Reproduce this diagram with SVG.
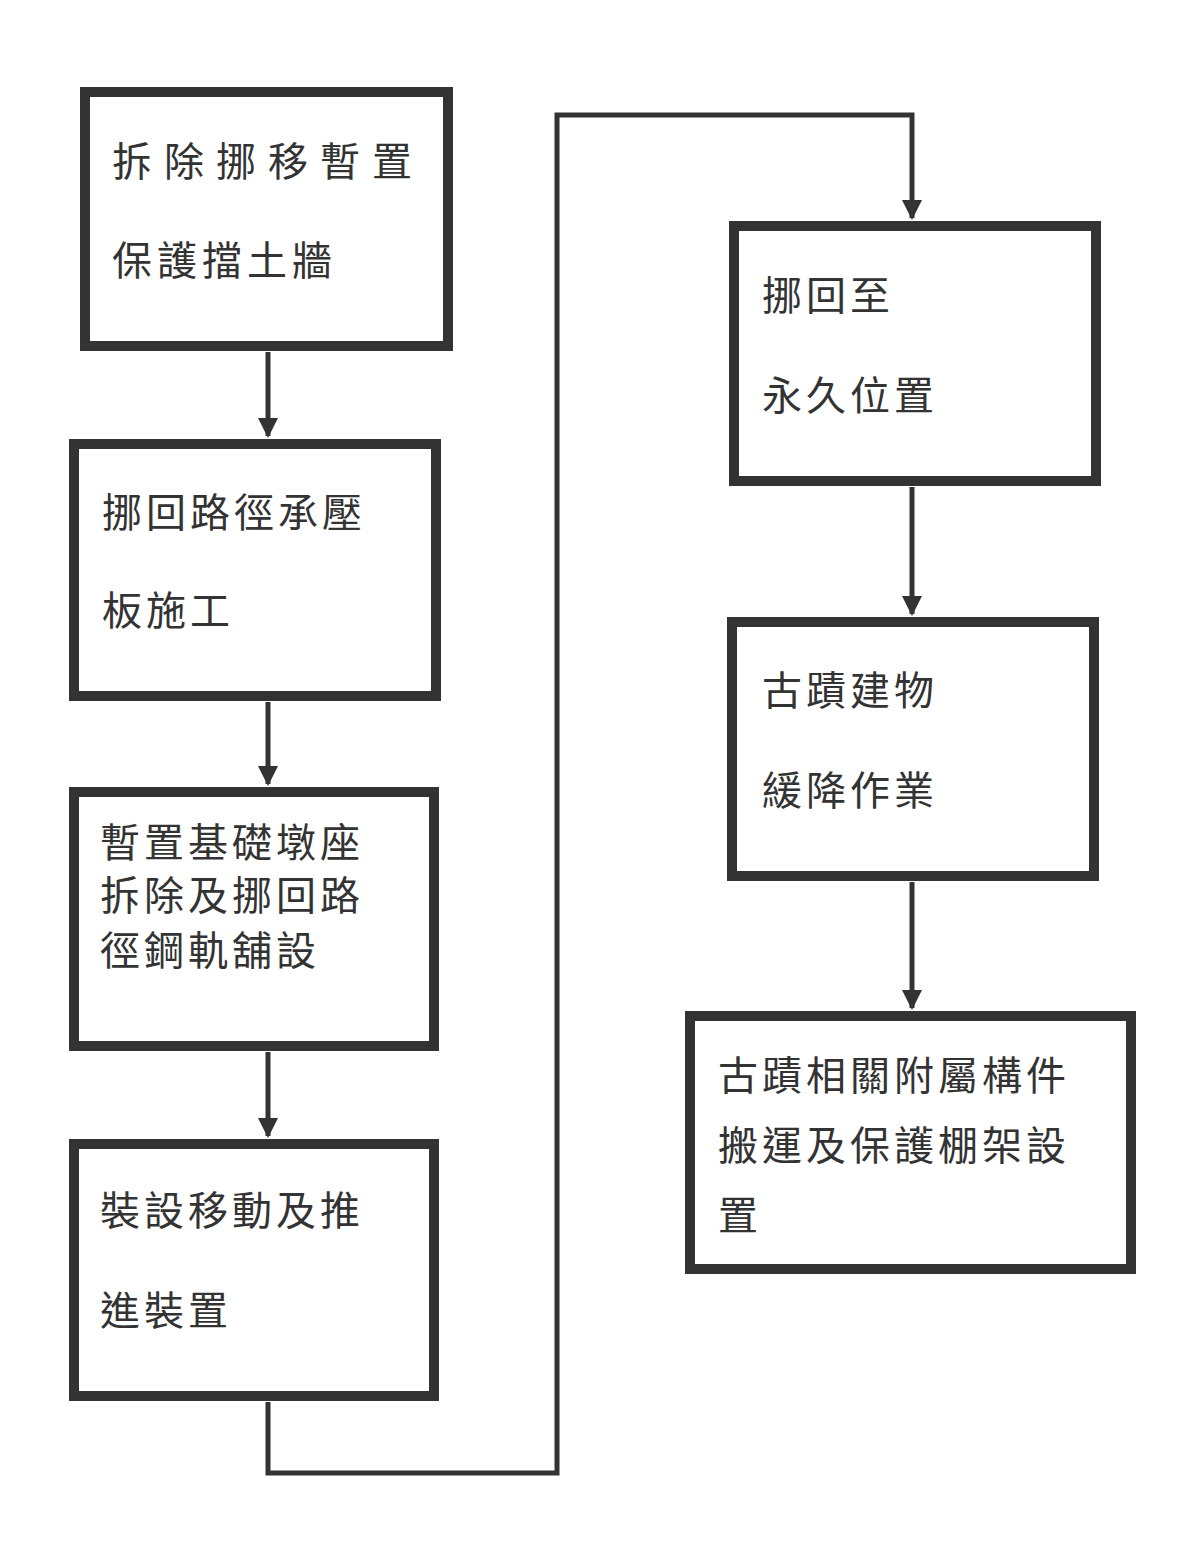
<svg xmlns="http://www.w3.org/2000/svg" width="1202" height="1549" viewBox="0 0 1202 1549">
<style>
.box{fill:#fff;stroke:#333;stroke-width:10}
.t{font-family:"Noto Sans CJK TC","Noto Sans CJK SC",sans-serif;font-size:40px;fill:#333}
.c{fill:none;stroke:#333;stroke-width:5}
</style>
<defs><marker id="a" viewBox="0 0 10 10" refX="9" refY="5" markerWidth="4" markerHeight="4" orient="auto"><path d="M0,0L10,5L0,10z" fill="#333"/></marker></defs>
<rect width="1202" height="1549" fill="#fff"/>
<g id="connectors">
<line class="c" x1="268" y1="352" x2="268" y2="436" marker-end="url(#a)"/>
<line class="c" x1="268" y1="702" x2="268" y2="784" marker-end="url(#a)"/>
<line class="c" x1="268" y1="1052" x2="268" y2="1136" marker-end="url(#a)"/>
<polyline class="c" points="268,1402 268,1473 557,1473 557,115 912,115 912,218" marker-end="url(#a)"/>
<line class="c" x1="912" y1="487" x2="912" y2="614" marker-end="url(#a)"/>
<line class="c" x1="912" y1="882" x2="912" y2="1008" marker-end="url(#a)"/>
</g>
<g id="n1"><rect class="box" x="85" y="92" width="363" height="254"/>
<text class="t" x="112" y="176" letter-spacing="12">拆除挪移暫置</text><text class="t" x="112" y="275" letter-spacing="5">保護擋土牆</text></g>
<g id="n2"><rect class="box" x="74" y="444" width="362" height="252"/>
<text class="t" x="102" y="527" letter-spacing="4">挪回路徑承壓</text><text class="t" x="102" y="625" letter-spacing="4">板施工</text></g>
<g id="n3"><rect class="box" x="74" y="792" width="360" height="254"/>
<text class="t" x="100" y="857" letter-spacing="4">暫置基礎墩座</text><text class="t" x="100" y="910" letter-spacing="4">拆除及挪回路</text><text class="t" x="100" y="965" letter-spacing="4">徑鋼軌舖設</text></g>
<g id="n4"><rect class="box" x="74" y="1144" width="360" height="252"/>
<text class="t" x="100" y="1225" letter-spacing="4">裝設移動及推</text><text class="t" x="100" y="1325" letter-spacing="4">進裝置</text></g>
<g id="n5"><rect class="box" x="734" y="226" width="362" height="255"/>
<text class="t" x="762" y="310" letter-spacing="4">挪回至</text><text class="t" x="762" y="410" letter-spacing="4">永久位置</text></g>
<g id="n6"><rect class="box" x="732" y="622" width="362" height="254"/>
<text class="t" x="762" y="705" letter-spacing="4">古蹟建物</text><text class="t" x="762" y="805" letter-spacing="4">緩降作業</text></g>
<g id="n7"><rect class="box" x="690" y="1016" width="441" height="253"/>
<text class="t" x="718" y="1090" letter-spacing="4">古蹟相關附屬構件</text><text class="t" x="718" y="1160" letter-spacing="4">搬運及保護棚架設</text><text class="t" x="718" y="1230" letter-spacing="4">置</text></g>
</svg>
